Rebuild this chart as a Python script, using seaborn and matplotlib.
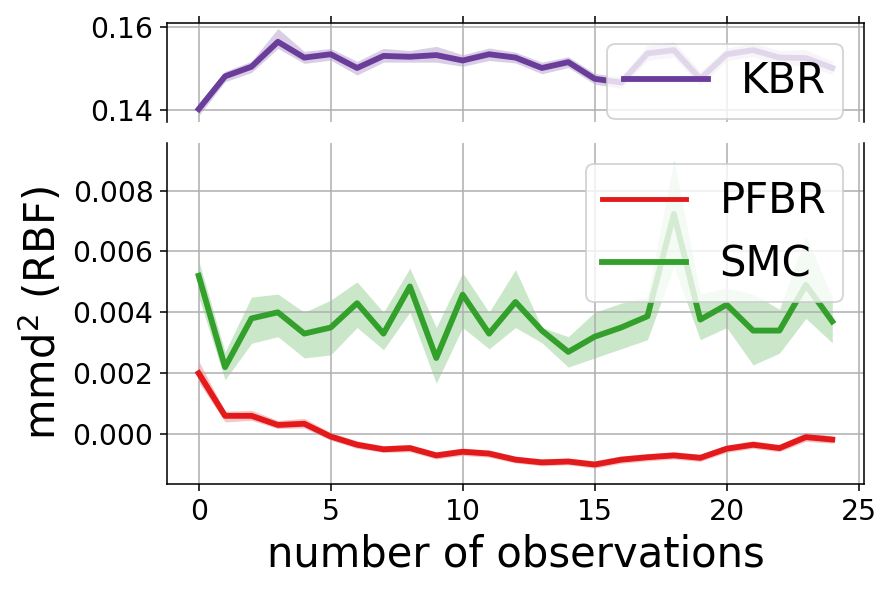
import matplotlib
matplotlib.use("Agg")
import matplotlib.pyplot as plt
import seaborn as sns

# number of observations on the x axis
obs = list(range(25))

# KBR (top panel): mean and band
kbr = [0.1402, 0.1481, 0.1504, 0.1564, 0.1526, 0.1534, 0.1501, 0.1530, 0.1528, 0.1532,
       0.1519, 0.1534, 0.1526, 0.1501, 0.1515, 0.1475, 0.1466, 0.1536, 0.1544, 0.1475,
       0.1534, 0.1544, 0.1526, 0.1525, 0.1501]
kbr_lo = [0.1386, 0.1468, 0.1490, 0.1548, 0.1512, 0.1520, 0.1484, 0.1515, 0.1515, 0.1515,
          0.1505, 0.1519, 0.1513, 0.1487, 0.1502, 0.1462, 0.1452, 0.1519, 0.1527, 0.1459,
          0.1519, 0.1529, 0.1509, 0.1507, 0.1485]
kbr_hi = [0.1415, 0.1493, 0.1517, 0.1596, 0.1541, 0.1548, 0.1517, 0.1548, 0.1543, 0.1553,
          0.1533, 0.1549, 0.1539, 0.1515, 0.1528, 0.1488, 0.1479, 0.1555, 0.1563, 0.1493,
          0.1549, 0.1561, 0.1543, 0.1545, 0.1517]

# PFBR (bottom panel)
pfbr = [0.0020, 0.0006, 0.0006, 0.0003, 0.00034, -0.00008, -0.00035, -0.0005, -0.00046, -0.0007,
        -0.00058, -0.00064, -0.00084, -0.00093, -0.0009, -0.001, -0.00084, -0.00076, -0.0007, -0.00078,
        -0.00048, -0.00035, -0.00046, -0.0001, -0.00018]
pfbr_lo = [0.0017, 0.0004, 0.00045, 0.00018, 0.0002, -0.0002, -0.00047, -0.0006, -0.00058, -0.00082,
           -0.0007, -0.00076, -0.00095, -0.00104, -0.00101, -0.00112, -0.00096, -0.00088, -0.00082, -0.0009,
           -0.0006, -0.00047, -0.00058, -0.00024, -0.0003]
pfbr_hi = [0.0024, 0.00075, 0.00078, 0.00045, 0.00052, 0.00005, -0.00022, -0.00038, -0.00034, -0.00058,
           -0.00046, -0.00052, -0.00072, -0.00081, -0.00079, -0.00088, -0.00072, -0.00064, -0.00058, -0.00066,
           -0.00036, -0.00022, -0.00034, 0.00006, -0.00006]

# SMC (bottom panel)
smc = [0.0052, 0.0022, 0.0038, 0.0040, 0.0033, 0.0035, 0.0043, 0.0033, 0.00485, 0.0025,
       0.00458, 0.0033, 0.00434, 0.0034, 0.0027, 0.0032, 0.0035, 0.00387, 0.00723, 0.00376,
       0.00425, 0.0034, 0.0034, 0.0049, 0.0037]
smc_lo = [0.0045, 0.00178, 0.00298, 0.0032, 0.0025, 0.0026, 0.0035, 0.00277, 0.0040, 0.00167,
          0.0035, 0.0028, 0.0035, 0.0030, 0.0022, 0.0025, 0.0028, 0.0031, 0.0055, 0.0031,
          0.0035, 0.00227, 0.00266, 0.0038, 0.0030]
smc_hi = [0.0057, 0.0027, 0.0045, 0.0046, 0.0040, 0.0044, 0.0050, 0.0040, 0.00545, 0.0035,
          0.0053, 0.0040, 0.0054, 0.0035, 0.0032, 0.0040, 0.0043, 0.0045, 0.0090, 0.0046,
          0.0048, 0.0046, 0.0041, 0.0065, 0.0045]

purple = "#6a3d9a"
red = "#e31a1c"
green = "#33a02c"

dpi = 140
fig = plt.figure(figsize=(894 / dpi, 591 / dpi), dpi=dpi)
ax_top = fig.add_axes([0.1868, 0.7936, 0.7796, 0.168])
ax_bot = fig.add_axes([0.1868, 0.181, 0.7796, 0.5775], sharex=ax_top)

# top panel
sns.lineplot(x=obs, y=kbr, ax=ax_top, color=purple, lw=3, label="KBR")
ax_top.fill_between(obs, kbr_lo, kbr_hi, color=purple, alpha=0.25, lw=0)

# bottom panel
sns.lineplot(x=obs, y=pfbr, ax=ax_bot, color=red, lw=3, label="PFBR")
ax_bot.fill_between(obs, pfbr_lo, pfbr_hi, color=red, alpha=0.25, lw=0)
sns.lineplot(x=obs, y=smc, ax=ax_bot, color=green, lw=3, label="SMC")
ax_bot.fill_between(obs, smc_lo, smc_hi, color=green, alpha=0.25, lw=0)

ax_top.set_ylim(0.1371, 0.161)
ax_top.set_yticks([0.14, 0.16])
ax_bot.set_ylim(-0.00164, 0.00957)
ax_bot.set_yticks([0.0, 0.002, 0.004, 0.006, 0.008])
ax_bot.set_xticks([0, 5, 10, 15, 20, 25])
ax_bot.set_xlim(-1.2, 25.2)

# broken axis look
ax_top.spines["bottom"].set_visible(False)
ax_bot.spines["top"].set_visible(False)
ax_top.xaxis.tick_top()
ax_top.tick_params(labeltop=False)
ax_bot.xaxis.tick_bottom()

for ax in (ax_top, ax_bot):
    ax.grid(True, color="#b0b0b0", lw=0.8)
    ax.tick_params(labelsize=14.5)

ax_bot.set_xlabel("number of observations", fontsize=21.5)
ax_bot.set_ylabel("mmd$^2$ (RBF)", fontsize=21.5)

ax_top.legend(loc="upper right", fontsize=21.5)
leg = ax_bot.legend(loc="upper right", fontsize=21.5)
leg.get_lines()[0].set_linewidth(2.5)

fig.savefig("out.png", dpi=dpi)
